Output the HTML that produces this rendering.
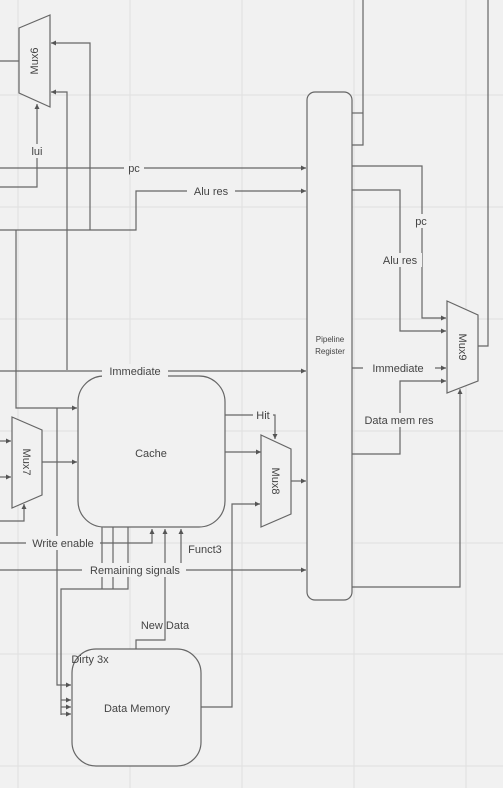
<!DOCTYPE html>
<html><head><meta charset="utf-8"><style>
html,body{margin:0;padding:0;background:#f1f1f1;}
svg{display:block;font-family:"Liberation Sans",sans-serif;}
</style></head><body>
<svg width="503" height="788" viewBox="0 0 503 788" xmlns="http://www.w3.org/2000/svg">
<defs>
<marker id="a" markerWidth="6" markerHeight="6" refX="5" refY="3" orient="auto" markerUnits="userSpaceOnUse">
<path d="M0,0.5 L5,3 L0,5.5 Z" fill="#555"/></marker>
</defs>
<rect width="503" height="788" fill="#f1f1f1"/>
<g stroke="#e0e0e0" stroke-width="1">
<line x1="18" y1="0" x2="18" y2="788"/><line x1="130" y1="0" x2="130" y2="788"/>
<line x1="242" y1="0" x2="242" y2="788"/><line x1="354" y1="0" x2="354" y2="788"/>
<line x1="466" y1="0" x2="466" y2="788"/>
<line x1="0" y1="95" x2="503" y2="95"/><line x1="0" y1="207" x2="503" y2="207"/>
<line x1="0" y1="319" x2="503" y2="319"/><line x1="0" y1="431" x2="503" y2="431"/>
<line x1="0" y1="543" x2="503" y2="543"/><line x1="0" y1="654" x2="503" y2="654"/>
<line x1="0" y1="766" x2="503" y2="766"/>
</g>
<g stroke="#666" stroke-width="1.2" fill="none">
<polygon points="19,28 50,15 50,107 19,93" fill="#f1f1f1"/>
<line x1="0" y1="61" x2="19" y2="61"/>
<polyline points="90,230 90,43 51,43" marker-end="url(#a)"/>
<polyline points="67,370 67,92 51,92" marker-end="url(#a)"/>
<polyline points="0,187 37,187 37,104" marker-end="url(#a)"/>
<line x1="0" y1="168" x2="306" y2="168" marker-end="url(#a)"/>
<polyline points="0,230 136,230 136,191 306,191" marker-end="url(#a)"/>
<polyline points="16,230 16,408 77,408" marker-end="url(#a)"/>
<polyline points="57,408 57,685 71,685" marker-end="url(#a)"/>
<line x1="0" y1="371" x2="306" y2="371" marker-end="url(#a)"/>
<polygon points="12,417 42,430 42,495 12,508" fill="#f1f1f1"/>
<line x1="0" y1="441" x2="11" y2="441" marker-end="url(#a)"/>
<line x1="0" y1="477" x2="11" y2="477" marker-end="url(#a)"/>
<polyline points="0,521 24,521 24,504" marker-end="url(#a)"/>
<line x1="42" y1="462" x2="77" y2="462" marker-end="url(#a)"/>
<rect x="78" y="376" width="147" height="151" rx="26" fill="#f1f1f1"/>
<polyline points="225,415 275,415 275,439" marker-end="url(#a)"/>
<line x1="225" y1="452" x2="261" y2="452" marker-end="url(#a)"/>
<polygon points="261,435 291,449 291,514 261,527" fill="#f1f1f1"/>
<line x1="291" y1="481" x2="306" y2="481" marker-end="url(#a)"/>
<polyline points="201,707 232,707 232,504 260,504" marker-end="url(#a)"/>
<polyline points="0,543 152,543 152,529" marker-end="url(#a)"/>
<line x1="181" y1="570" x2="181" y2="529" marker-end="url(#a)"/>
<polyline points="136,649 136,640 165,640 165,529" marker-end="url(#a)"/>
<line x1="0" y1="570" x2="306" y2="570" marker-end="url(#a)"/>
<polyline points="102,527 102,589"/><polyline points="113,527 113,589"/>
<polyline points="128,527 128,589 61,589 61,715"/>
<line x1="61" y1="700" x2="71" y2="700" marker-end="url(#a)"/>
<line x1="61" y1="707" x2="71" y2="707" marker-end="url(#a)"/>
<line x1="61" y1="714" x2="71" y2="714" marker-end="url(#a)"/>
<rect x="72" y="649" width="129" height="117" rx="24" fill="#f1f1f1"/>
<rect x="307" y="92" width="45" height="508" rx="8" fill="#f1f1f1"/>
<polyline points="352,145 363,145 363,0"/>
<line x1="352" y1="113" x2="363" y2="113"/>
<polyline points="352,166 422,166 422,318 446,318" marker-end="url(#a)"/>
<polyline points="352,190 400,190 400,331 446,331" marker-end="url(#a)"/>
<line x1="352" y1="368" x2="446" y2="368" marker-end="url(#a)"/>
<polyline points="352,454 400,454 400,381 446,381" marker-end="url(#a)"/>
<polyline points="352,587 460,587 460,389" marker-end="url(#a)"/>
<polygon points="447,301 478,315 478,381 447,393" fill="#f1f1f1"/>
<polyline points="478,346 488,346 488,0"/>
</g>
<g fill="#444" font-size="11" text-anchor="middle">
<rect x="29" y="144" width="16" height="14" fill="#f1f1f1"/>
<text x="37" y="155">lui</text>
<rect x="124" y="161" width="20" height="14" fill="#f1f1f1"/>
<text x="134" y="172">pc</text>
<rect x="187" y="184" width="48" height="14" fill="#f1f1f1"/>
<text x="211" y="195">Alu res</text>
<rect x="102" y="364" width="66" height="14" fill="#f1f1f1"/>
<text x="135" y="375">Immediate</text>
<text x="151" y="457">Cache</text>
<rect x="253" y="408" width="20" height="14" fill="#f1f1f1"/>
<text x="263" y="419">Hit</text>
<rect x="26" y="536" width="74" height="14" fill="#f1f1f1"/>
<text x="63" y="547">Write enable</text>
<text x="205" y="553">Funct3</text>
<rect x="82" y="563" width="104" height="14" fill="#f1f1f1"/>
<text x="135" y="574">Remaining signals</text>
<text x="165" y="629">New Data</text>
<text x="90" y="663">Dirty 3x</text>
<text x="137" y="712">Data Memory</text>
<rect x="412" y="214" width="20" height="14" fill="#f1f1f1"/>
<text x="421" y="225">pc</text>
<rect x="378" y="253" width="44" height="14" fill="#f1f1f1"/>
<text x="400" y="264">Alu res</text>
<rect x="363" y="361" width="72" height="14" fill="#f1f1f1"/>
<text x="398" y="372">Immediate</text>
<rect x="356" y="413" width="86" height="14" fill="#f1f1f1"/>
<text x="399" y="424">Data mem res</text>
<text font-size="8"><tspan x="330" y="342">Pipeline</tspan><tspan x="330" y="354">Register</tspan></text>
<text transform="translate(34,61) rotate(-90)" y="4">Mux6</text>
<text transform="translate(27,462) rotate(90)" y="4">Mux7</text>
<text transform="translate(276,481) rotate(90)" y="4">Mux8</text>
<text transform="translate(463,347) rotate(90)" y="4">Mux9</text>
</g>
</svg>
</body></html>
